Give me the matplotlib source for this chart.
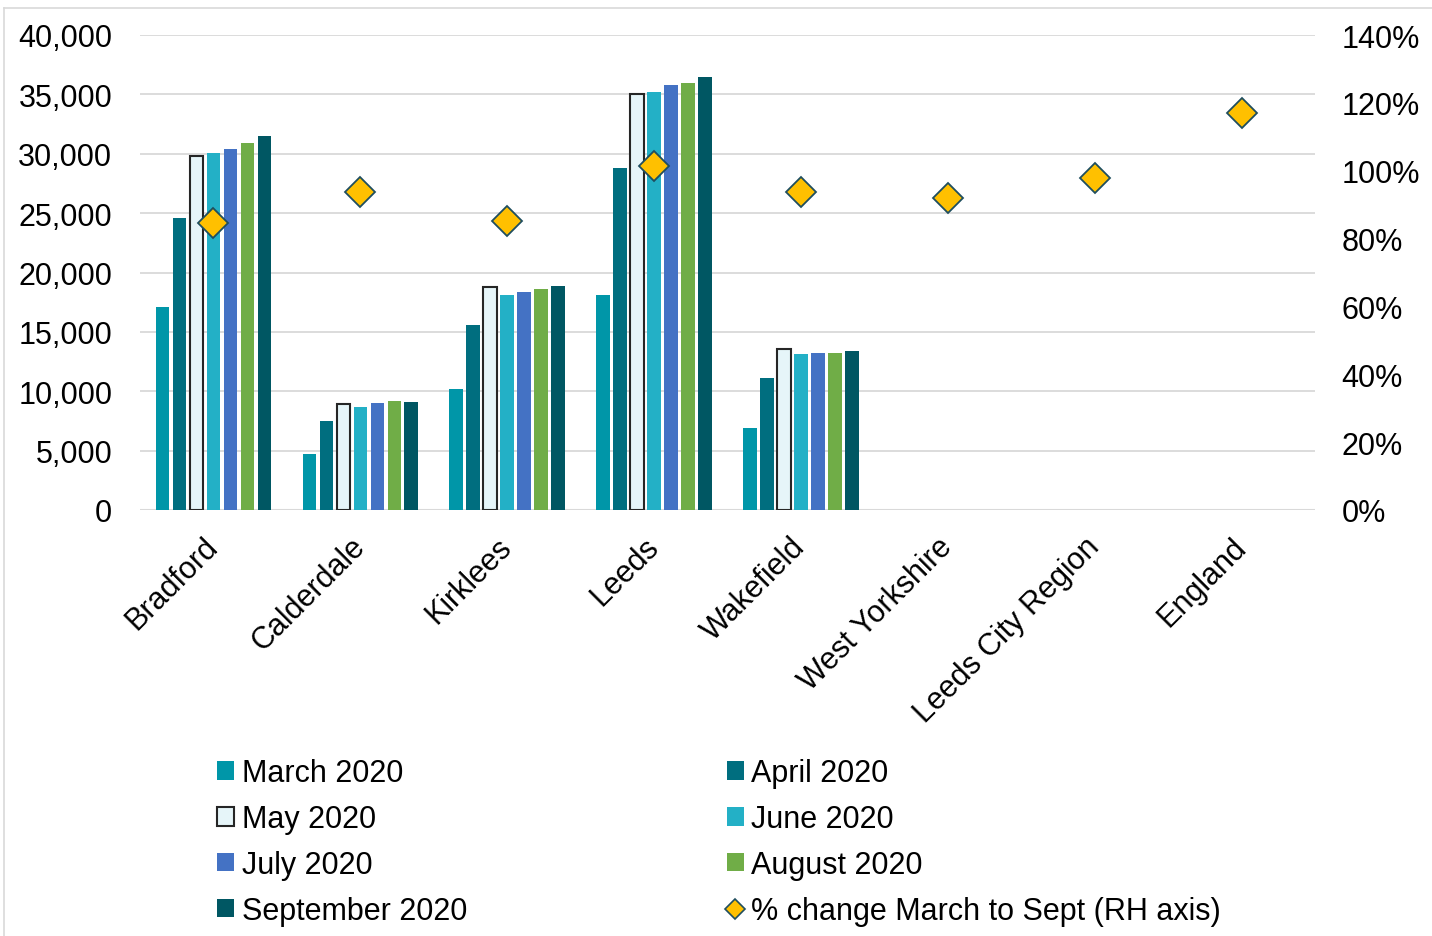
import numpy as np
import matplotlib
matplotlib.use("Agg")
import matplotlib.pyplot as plt
from matplotlib.lines import Line2D
from matplotlib.ticker import FuncFormatter

plt.rcParams['font.family'] = ['Liberation Sans', 'DejaVu Sans']

areas = ["Bradford", "Calderdale", "Kirklees", "Leeds", "Wakefield",
         "West Yorkshire", "Leeds City Region", "England"]
months = ["March 2020", "April 2020", "May 2020", "June 2020",
          "July 2020", "August 2020", "September 2020"]

# claimant counts, five districts only
march = [17100, 4700, 10200, 18100, 6900]
april = [24600, 7500, 15600, 28800, 11100]
may = [29800, 8900, 18750, 35050, 13600]
june = [30100, 8700, 18100, 35200, 13100]
july = [30400, 9000, 18400, 35800, 13250]
august = [30900, 9150, 18600, 36000, 13200]
september = [31500, 9100, 18900, 36500, 13400]

pct_change = [0.846, 0.937, 0.852, 1.014, 0.937, 0.920, 0.978, 1.170]

colors = ["#0096A8", "#006E7F", "#E6F5F9", "#23B0C6", "#4472C4", "#70AD47", "#005763"]

fs = 22

fig = plt.figure(figsize=(14.32, 9.37), dpi=100)
ax = fig.add_axes([140/1432, 1-511/937, 1175/1432, 475/937])
ax2 = ax.twinx()

x = np.arange(len(areas))
series = [march, april, may, june, july, august, september]
stride = 0.1156
width = 0.092
bar_handles = []
for i, vals in enumerate(series):
    xs = x[:len(vals)] + (i - 3) * stride
    if i == 2:
        b = ax.bar(xs, vals, width, color=colors[i], edgecolor="#262626",
                   linewidth=1.5, label=months[i], zorder=3)
    else:
        b = ax.bar(xs, vals, width, color=colors[i], label=months[i], zorder=3)
    bar_handles.append(b)

ax.set_xlim(-0.5, len(areas) - 0.5)
ax.set_ylim(0, 40000)
ax.set_yticks(np.arange(0, 40001, 5000))
ax.yaxis.set_major_formatter(FuncFormatter(lambda v, p: f"{int(v):,}"))
ax.grid(axis="y", color="#D9D9D9", linewidth=1.3, zorder=0)
ax.set_axisbelow(True)
for s in ["top", "right", "left", "bottom"]:
    ax.spines[s].set_visible(False)
ax2.spines[:].set_visible(False)
ax.axhline(0, color="#D9D9D9", linewidth=1.5, zorder=1)

ax.tick_params(axis="y", length=0, labelsize=fs, pad=20)
ax.set_xticks(x)
ax.set_xticklabels(areas, rotation=45, ha="right", va="center",
                   rotation_mode="anchor", fontsize=fs)
ax.tick_params(axis="x", length=0, pad=23)

ax2.set_ylim(0, 1.4)
ax2.set_yticks(np.arange(0, 1.41, 0.2))
ax2.yaxis.set_major_formatter(FuncFormatter(lambda v, p: f"{v*100:.0f}%"))
ax2.tick_params(axis="y", length=0, labelsize=fs, pad=19)
ax2.plot(x, pct_change, linestyle="none", marker="D", markersize=15,
         markerfacecolor="#FFC000", markeredgecolor="#1F4E5F",
         markeredgewidth=1.3, zorder=5)

pct_handle = Line2D([], [], linestyle="none", marker="D", markersize=10,
                    markerfacecolor="#FFC000", markeredgecolor="#1F4E5F",
                    markeredgewidth=1.2)
handles = [bar_handles[0], bar_handles[2], bar_handles[4], bar_handles[6],
           bar_handles[1], bar_handles[3], bar_handles[5], pct_handle]
labels = [months[0], months[2], months[4], months[6],
          months[1], months[3], months[5], "% change March to Sept (RH axis)"]
fig.legend(handles, labels, ncol=2, loc="upper left",
           bbox_to_anchor=(205/1432, 1-747/937), frameon=False, fontsize=fs,
           handlelength=0.55, handleheight=0.55, handletextpad=0.25,
           labelspacing=0.52, columnspacing=8.5, borderaxespad=0)

# light chart-area border
fig.add_artist(Line2D([4/1432, 1], [1-9/937, 1-9/937], color="#D9D9D9", linewidth=1.2))
fig.add_artist(Line2D([4/1432, 4/1432], [0, 1-9/937], color="#D9D9D9", linewidth=1.2))

fig.savefig("out.png", dpi=100)
